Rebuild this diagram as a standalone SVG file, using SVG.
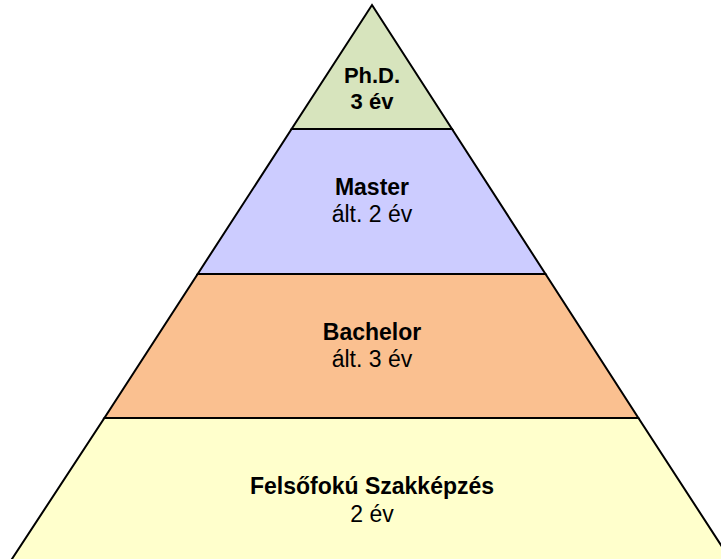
<svg xmlns="http://www.w3.org/2000/svg" width="721" height="559" viewBox="0 0 721 559">
<style>
.band{stroke:#000;stroke-width:2;stroke-linejoin:miter}
text{font-family:"Liberation Sans",Arial,sans-serif;font-size:23px;fill:#000;text-anchor:middle}
.b{font-weight:bold}
.s{font-size:22px}
</style>
<rect width="721" height="559" fill="#fff"/>
<g id="felsofoku">
<polygon class="band" points="104.4,418 638.4,418 732,562 10,562" fill="#ffffcc"/>
<text class="b" x="372" y="494">Felsőfokú Szakképzés</text>
<text x="372" y="522">2 év</text>
</g>
<g id="bachelor">
<polygon class="band" points="197.7,274 545.5,274 638.4,418 104.4,418" fill="#fac090"/>
<text class="b" x="372" y="340">Bachelor</text>
<text x="372" y="367">ált. 3 év</text>
</g>
<g id="master">
<polygon class="band" points="291.6,129 452,129 545.5,274 197.7,274" fill="#ccccff"/>
<text class="b" x="372" y="195">Master</text>
<text x="372" y="222">ált. 2 év</text>
</g>
<g id="phd">
<polygon class="band" points="372,5 452,129 291.6,129" fill="#d7e4bd"/>
<text class="b s" x="372" y="83">Ph.D.</text>
<text class="b s" x="372" y="109">3 év</text>
</g>
</svg>
